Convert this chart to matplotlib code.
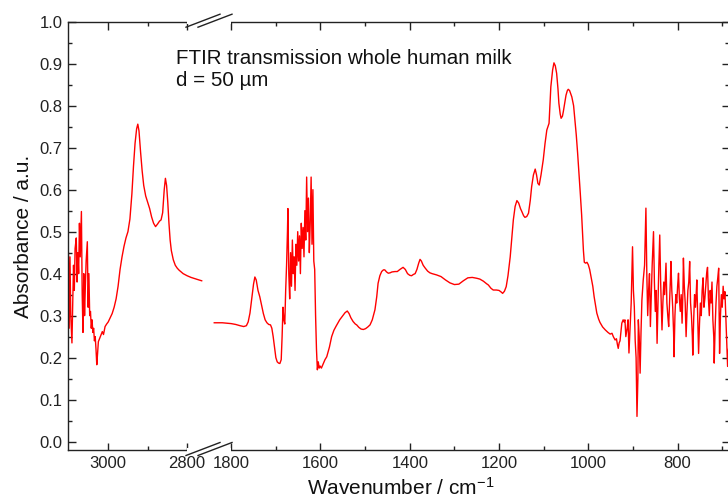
import matplotlib
matplotlib.use("Agg")
import matplotlib.pyplot as plt
from matplotlib.lines import Line2D
from matplotlib.patches import Rectangle
from matplotlib.ticker import MultipleLocator, FixedLocator

plt.rcParams['font.family'] = ['Liberation Sans', 'DejaVu Sans']
plt.rcParams['mathtext.fontset'] = 'custom'
plt.rcParams['mathtext.rm'] = 'Liberation Sans'
plt.rcParams['mathtext.it'] = 'Liberation Sans:italic'

# ---------------- data ----------------
left_wn = [3101, 3099, 3097, 3095, 3092, 3090, 3088, 3086, 3084, 3081, 3079, 3077, 3075, 3073,
           3071, 3068, 3066, 3064, 3062, 3060, 3058, 3056, 3053, 3051, 3049, 3047, 3045, 3043,
           3041, 3039, 3037, 3035, 3033, 3031, 3029, 3027, 3025, 3020, 3015, 3012, 3008, 3004,
           3000, 2995, 2990, 2985, 2980, 2975, 2970, 2965, 2960, 2955, 2950, 2945, 2940, 2936,
           2932, 2928, 2925, 2922, 2918, 2914, 2910, 2905, 2900, 2895, 2890, 2885, 2880, 2875,
           2870, 2866, 2862, 2858, 2855, 2852, 2849, 2846, 2843, 2840, 2835, 2830, 2825, 2820,
           2810, 2800, 2790, 2780, 2770, 2763]
left_abs = [0.45, 0.27, 0.44, 0.30, 0.235, 0.33, 0.42, 0.36, 0.46, 0.485, 0.38, 0.45, 0.40, 0.52,
            0.44, 0.548, 0.35, 0.26, 0.40, 0.30, 0.37, 0.43, 0.476, 0.32, 0.40, 0.30, 0.31, 0.27,
            0.29, 0.26, 0.27, 0.24, 0.25, 0.22, 0.183, 0.21, 0.238, 0.25, 0.262, 0.255, 0.274, 0.28,
            0.285, 0.295, 0.305, 0.32, 0.34, 0.37, 0.41, 0.44, 0.465, 0.485, 0.50, 0.53, 0.59, 0.655,
            0.71, 0.745, 0.756, 0.74, 0.69, 0.645, 0.61, 0.585, 0.57, 0.555, 0.535, 0.52, 0.512, 0.518,
            0.525, 0.528, 0.545, 0.60, 0.627, 0.61, 0.57, 0.52, 0.48, 0.455, 0.433, 0.42, 0.413, 0.408,
            0.40, 0.395, 0.391, 0.388, 0.385, 0.383]

right_wn = [1838, 1830, 1820, 1810, 1800, 1790, 1780, 1772, 1766, 1762, 1758, 1754, 1750, 1747,
            1744, 1740, 1736, 1732, 1728, 1724, 1720, 1716, 1712, 1709, 1706, 1703, 1700, 1697,
            1694, 1691, 1688, 1686, 1684, 1682, 1680, 1678, 1676, 1674, 1673, 1671, 1669, 1667,
            1665, 1663, 1661, 1659, 1657, 1655, 1653, 1651, 1649, 1647, 1645, 1643, 1641, 1639,
            1637, 1635, 1633, 1631, 1629, 1627, 1625, 1623, 1621, 1619, 1617, 1615, 1613, 1611,
            1609, 1607, 1605, 1603, 1601, 1598, 1594, 1590, 1586, 1580, 1575, 1570, 1565, 1557,
            1550, 1545, 1540, 1536, 1532, 1527, 1522, 1519, 1514, 1509, 1504, 1499, 1494, 1489,
            1484, 1478, 1474, 1471, 1467, 1463, 1459, 1456, 1452, 1448, 1444, 1440, 1433, 1428,
            1422, 1415, 1410, 1405, 1400, 1396, 1392, 1388, 1384, 1380, 1377, 1374, 1370, 1366,
            1360, 1355, 1350, 1340, 1330, 1320, 1310, 1300, 1290, 1280, 1270, 1260, 1250, 1243,
            1235, 1228, 1224, 1218, 1213, 1206, 1200, 1195, 1192, 1188, 1184, 1180, 1175, 1171,
            1168, 1164, 1160, 1156, 1152, 1149, 1145, 1142, 1138, 1134, 1130, 1127, 1123, 1119,
            1116, 1113, 1110, 1106, 1101, 1097, 1093, 1088, 1086, 1084, 1080, 1077, 1074, 1071,
            1068, 1066, 1063, 1061, 1058, 1056, 1053, 1050, 1047, 1045, 1042, 1040, 1037, 1033,
            1030, 1027, 1024, 1021, 1018, 1015, 1013, 1011, 1009, 1006, 1003, 1000, 997, 994,
            990, 987, 984, 981, 977, 974, 968, 962, 956, 951, 947, 944, 940, 937,
            935, 933, 931, 929, 927, 925, 922, 920, 918, 916, 913, 911, 909, 906,
            904, 901, 899, 897, 895, 893, 891, 889, 888, 886, 884, 882, 880, 877,
            874, 871, 869, 867, 865, 863, 861, 859, 857, 855, 854, 852, 850, 848,
            846, 844, 842, 840, 838, 836, 835, 833, 831, 829, 827, 826, 824, 822,
            820, 818, 816, 815, 813, 811, 809, 808, 806, 804, 802, 800, 798, 796,
            794, 792, 790, 788, 787, 785, 783, 781, 779, 777, 775, 773, 771, 769,
            767, 766, 764, 762, 760, 758, 757, 755, 753, 751, 749, 747, 745, 743,
            741, 739, 737, 735, 733, 731, 729, 727, 725, 723, 721, 719, 718, 716,
            714, 712, 710, 708, 706, 704, 702, 700, 698, 696, 694, 692, 690, 688,
            686]
right_abs = [0.283, 0.283, 0.283, 0.282, 0.281, 0.279, 0.276, 0.274, 0.276, 0.285, 0.306, 0.34, 0.375, 0.392,
             0.385, 0.36, 0.345, 0.325, 0.305, 0.29, 0.283, 0.279, 0.278, 0.27, 0.25, 0.225, 0.20, 0.19,
             0.187, 0.186, 0.195, 0.25, 0.32, 0.29, 0.28, 0.36, 0.42, 0.50, 0.555, 0.40, 0.34, 0.45,
             0.37, 0.48, 0.40, 0.44, 0.36, 0.47, 0.42, 0.50, 0.43, 0.49, 0.40, 0.52, 0.46, 0.51,
             0.44, 0.55, 0.48, 0.63, 0.50, 0.58, 0.45, 0.52, 0.63, 0.47, 0.60, 0.43, 0.41, 0.30,
             0.22, 0.171, 0.19, 0.175, 0.18, 0.175, 0.185, 0.195, 0.202, 0.225, 0.25, 0.265, 0.275, 0.29,
             0.30, 0.307, 0.311, 0.305, 0.295, 0.286, 0.28, 0.278, 0.272, 0.268, 0.267, 0.269, 0.273, 0.278,
             0.29, 0.314, 0.345, 0.377, 0.395, 0.405, 0.409, 0.409, 0.404, 0.401, 0.402, 0.404, 0.405, 0.405,
             0.41, 0.415, 0.41, 0.40, 0.396, 0.395, 0.398, 0.40, 0.41, 0.425, 0.434, 0.43, 0.42, 0.414,
             0.406, 0.402, 0.40, 0.397, 0.393, 0.385, 0.378, 0.374, 0.375, 0.383, 0.39, 0.391, 0.389, 0.387,
             0.382, 0.376, 0.373, 0.365, 0.361, 0.361, 0.36, 0.356, 0.353, 0.358, 0.369, 0.395, 0.44, 0.49,
             0.528, 0.56, 0.574, 0.568, 0.555, 0.548, 0.538, 0.534, 0.536, 0.544, 0.575, 0.607, 0.635, 0.649,
             0.635, 0.615, 0.611, 0.635, 0.671, 0.71, 0.742, 0.758, 0.80, 0.845, 0.885, 0.902, 0.895, 0.877,
             0.84, 0.806, 0.78, 0.77, 0.775, 0.786, 0.805, 0.825, 0.836, 0.839, 0.836, 0.83, 0.821, 0.80,
             0.766, 0.73, 0.687, 0.64, 0.591, 0.54, 0.496, 0.455, 0.427, 0.425, 0.427, 0.421, 0.41, 0.393,
             0.37, 0.345, 0.325, 0.306, 0.292, 0.284, 0.273, 0.266, 0.26, 0.256, 0.258, 0.25, 0.242, 0.245,
             0.232, 0.222, 0.235, 0.24, 0.26, 0.282, 0.29, 0.285, 0.29, 0.25, 0.27, 0.29, 0.211, 0.28,
             0.33, 0.464, 0.36, 0.321, 0.24, 0.20, 0.06, 0.15, 0.29, 0.25, 0.163, 0.26, 0.337, 0.385,
             0.42, 0.556, 0.40, 0.30, 0.36, 0.40, 0.274, 0.35, 0.42, 0.47, 0.50, 0.38, 0.31, 0.36,
             0.234, 0.33, 0.42, 0.492, 0.38, 0.30, 0.266, 0.33, 0.38, 0.35, 0.40, 0.425, 0.33, 0.30,
             0.274, 0.33, 0.39, 0.429, 0.36, 0.32, 0.26, 0.202, 0.30, 0.35, 0.33, 0.37, 0.401, 0.34,
             0.31, 0.35, 0.282, 0.36, 0.437, 0.37, 0.33, 0.25, 0.31, 0.36, 0.38, 0.429, 0.33, 0.30,
             0.25, 0.206, 0.29, 0.35, 0.32, 0.36, 0.385, 0.30, 0.21, 0.28, 0.33, 0.30, 0.36, 0.39,
             0.32, 0.34, 0.37, 0.40, 0.415, 0.34, 0.30, 0.36, 0.33, 0.38, 0.29, 0.25, 0.187, 0.27,
             0.33, 0.37, 0.39, 0.413, 0.21, 0.30, 0.35, 0.32, 0.37, 0.34, 0.357, 0.30, 0.25, 0.179,
             0.22]

left_major = [3000, 2800]
left_minor = [2900]
right_major = [1800, 1600, 1400, 1200, 1000, 800]
right_minor = [1700, 1500, 1300, 1100, 900, 700]
y_ticks = [0.0, 0.1, 0.2, 0.3, 0.4, 0.5, 0.6, 0.7, 0.8, 0.9, 1.0]

# ---------------- layout ----------------
W, H = 728, 499
fig = plt.figure(figsize=(W / 100, H / 100), dpi=100)

def fx(px):
    return px / W

def fy(py):
    return (H - py) / H

ax_top, ax_bot = 21.7, 450.0
x_left, x_break, x_right = 68.0, 208.0, 728.5
axL = fig.add_axes([fx(x_left), fy(ax_bot), fx(x_break - x_left), fy(ax_top) - fy(ax_bot)])
axR = fig.add_axes([fx(x_break), fy(ax_bot), fx(x_right - x_break), fy(ax_top) - fy(ax_bot)])

red = '#ff0000'
spine_c = '#222222'
axL.plot(left_wn, left_abs, color=red, lw=1.0)
axR.plot(right_wn, right_abs, color=red, lw=1.0)

ylim = (-0.02, 1.0)
for ax in (axL, axR):
    ax.set_ylim(*ylim)
    for s in ax.spines.values():
        s.set_color(spine_c)
        s.set_linewidth(1.0)
    ax.tick_params(which='major', direction='in', length=5.4, width=1.0, color=spine_c,
                   labelsize=12, labelcolor='#222222', pad=4, top=True)
    ax.tick_params(which='minor', direction='in', length=2.9, width=1.0, color=spine_c, top=True)

axL.set_xlim(3102, 2747)
axR.set_xlim(1852, 686)
axL.xaxis.set_major_locator(FixedLocator(left_major))
axL.xaxis.set_minor_locator(FixedLocator(left_minor))
axR.xaxis.set_major_locator(FixedLocator(right_major))
axR.xaxis.set_minor_locator(FixedLocator(right_minor))
axL.set_xticklabels([str(v) for v in left_major])
axR.set_xticklabels([str(v) for v in right_major])

axL.yaxis.set_major_locator(FixedLocator(y_ticks))
axL.set_yticklabels([f"{v:.1f}" for v in y_ticks])
axL.yaxis.set_minor_locator(MultipleLocator(0.05))
axR.yaxis.set_major_locator(FixedLocator(y_ticks))
axR.yaxis.set_minor_locator(MultipleLocator(0.05))

axL.spines['right'].set_visible(False)
axR.spines['left'].set_visible(False)
axL.tick_params(which='both', right=False)
axR.tick_params(which='both', left=False, labelleft=False, right=True)

# ---------------- axis break symbols ----------------
for sy in (ax_bot, ax_top):
    fig.add_artist(Rectangle((fx(187), fy(sy + 2.5)), fx(231) - fx(187), fy(sy - 2.5) - fy(sy + 2.5),
                             facecolor='white', edgecolor='none', zorder=5))
    for x0 in (186, 198):
        fig.add_artist(Line2D([fx(x0), fx(x0 + 34)], [fy(sy + 5.5), fy(sy - 7.5)],
                              color=spine_c, lw=1.0, zorder=6))

# ---------------- texts ----------------
fig.text(fx(176.4), fy(63.5), 'FTIR transmission whole human milk', fontsize=14.8,
         color='#111111', va='baseline', ha='left')
fig.text(fx(176.4), fy(86.0), 'd = 50 µm', fontsize=14.8, color='#111111', va='baseline', ha='left')
fig.text(fx(23.5), fy(236), 'Absorbance / a.u.', fontsize=15, rotation=90,
         ha='center', va='center', color='#111111')
fig.text(fx(401), fy(495.0), 'Wavenumber / cm$^{-1}$', fontsize=15, ha='center',
         va='baseline', color='#111111')

fig.savefig('out.png', dpi=100)
